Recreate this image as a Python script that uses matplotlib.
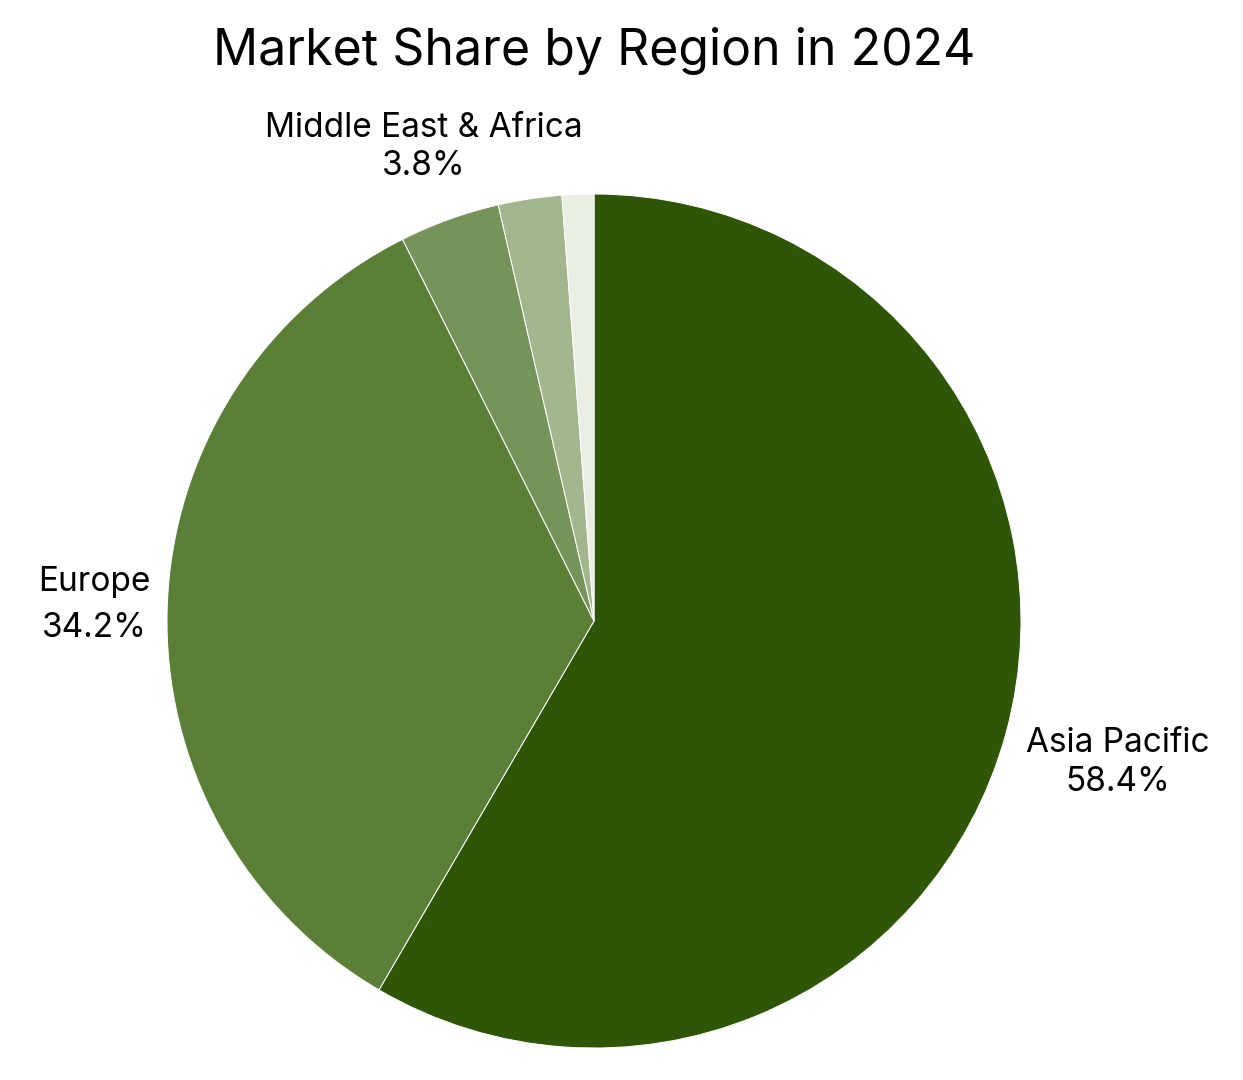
import matplotlib
matplotlib.use('Agg')
import numpy as np
from matplotlib import pyplot as plt

plt.rcParams['font.family'] = ['Inter', 'DejaVu Sans']

regions = ['Asia Pacific', 'Europe', 'Middle East & Africa', 'Latin America', 'Other']
shares = [58.4, 34.2, 3.8, 2.4, 1.2]
colors = ['#2f5507', '#5c7f38', '#76935a', '#a2b68e', '#e9eee3']
show_label = [True, True, True, False, False]
label_dist = [1.27, 1.17, 1.18, 1.2, 1.2]
label_spacing = [1.25, 1.55, 1.25, 1.25, 1.25]

W, H = 1243, 1080
cx, cy, R = 594, 459, 427  # pie centre (px from bottom-left) and radius

fig = plt.figure(figsize=(W / 100, H / 100), dpi=100)
ax = fig.add_axes([0, 0, 1, 1])

wedges, _ = ax.pie(shares, colors=colors, startangle=90, counterclock=False,
                   wedgeprops=dict(edgecolor='white', linewidth=0.7))

ax.set_xlim(-cx / R, (W - cx) / R)
ax.set_ylim(-cy / R, (H - cy) / R)
ax.set_aspect('equal')
ax.axis('off')

for w, name, val, show, d, ls in zip(wedges, regions, shares, show_label,
                                     label_dist, label_spacing):
    if not show:
        continue
    ang = np.deg2rad((w.theta1 + w.theta2) / 2)
    ax.text(d * np.cos(ang), d * np.sin(ang), f'{name}\n{val}%',
            ha='center', va='center', fontsize=24, linespacing=ls)

fig.text(594 / W, 1 - 51 / H, 'Market Share by Region in 2024',
         ha='center', va='center', fontsize=36)

plt.savefig('out.png', dpi=100)
